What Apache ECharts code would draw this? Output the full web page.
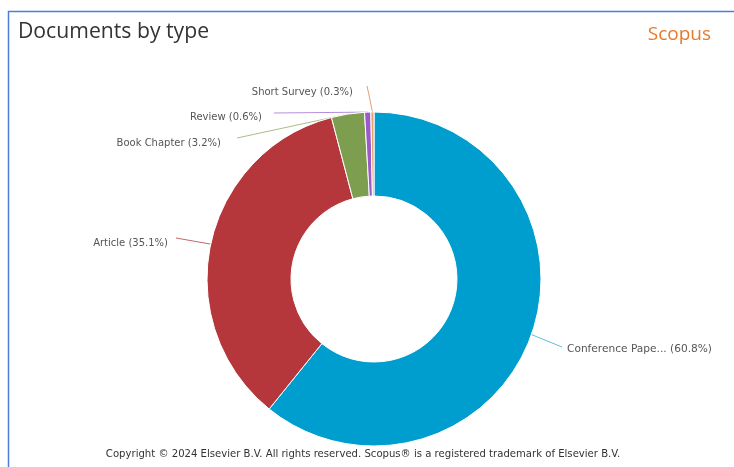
<!DOCTYPE html>
<html>
<head>
<meta charset="utf-8">
<script src="https://cdn.jsdelivr.net/npm/echarts@6/dist/echarts.min.js"></script>
<style>html,body{margin:0;padding:0;background:#fff;}#c{width:734px;height:467px;}</style>
</head>
<body>
<div id="c"></div>
<script>
const categories = ['Conference Pape...', 'Article', 'Book Chapter', 'Review', 'Short Survey'];
const values = [60.8, 35.1, 3.2, 0.6, 0.3];
const colors = ['#009ECE', '#B5373B', '#7E9E4F', '#9A5BC9', '#E8A06E'];
const lineColors = ['#5BBFDD', '#C9646A', '#A8BE86', '#B48EDB', '#E0A070'];

// label anchor positions (text placement only)
const labelPos = [
  {x: 567, y: 349, align: 'left', bend: [562, 347]},
  {x: 168, y: 243, align: 'right', bend: [176, 238]},
  {x: 221, y: 143, align: 'right', bend: [237, 138]},
  {x: 262, y: 117, align: 'right', bend: [274, 113]},
  {x: 353, y: 92, align: 'right', bend: [367, 86]}
];

const chart = echarts.init(document.getElementById('c'));
chart.setOption({
  animation: false,
  title: [
    {text: 'Documents by type', left: 13, top: 16,
     textStyle: {fontFamily: 'Open Sans', fontSize: 21.2, fontWeight: 'normal', color: '#333'}},
    {text: 'Scopus', right: 18, top: 20,
     textStyle: {fontFamily: 'Open Sans', fontSize: 19, fontWeight: 'normal', color: '#E8792A'}}
  ],
  graphic: [
    {type: 'line', shape: {x1: 8, y1: 11.5, x2: 734, y2: 11.5}, style: {stroke: '#4A7FD8', lineWidth: 1.5}},
    {type: 'line', shape: {x1: 8.5, y1: 11, x2: 8.5, y2: 467}, style: {stroke: '#4A7FD8', lineWidth: 1.5}},
    {type: 'text', x: 363, y: 454,
     style: {text: 'Copyright \u00a9 2024 Elsevier B.V. All rights reserved. Scopus\u00ae is a registered trademark of Elsevier B.V.',
       fontFamily: 'DejaVu Sans', fontSize: 10.1, fill: '#333', align: 'center', verticalAlign: 'middle'}}
  ],
  series: [{
    type: 'pie',
    center: [374, 279],
    radius: [83, 167],
    startAngle: 90,
    clockwise: true,
    itemStyle: {borderColor: '#fff', borderWidth: 1},
    label: {
      show: true,
      fontFamily: 'DejaVu Sans',
      fontSize: 10,
      color: '#555',
      formatter: p => p.name + ' (' + p.value + '%)'
    },
    labelLine: {show: true, length: 10, length2: 10, lineStyle: {width: 1}},
    labelLayout: function (params) {
      const i = params.dataIndex;
      const lp = labelPos[i];
      const start = params.labelLinePoints ? params.labelLinePoints[0] : lp.bend;
      let pts;
      if (i === 4) {
        pts = [start, [369, 95], lp.bend];
      } else {
        pts = [start, lp.bend, lp.bend];
      }
      return {x: lp.x, y: lp.y, align: lp.align, verticalAlign: 'middle', labelLinePoints: pts};
    },
    data: categories.map((c, i) => ({
      name: c, value: values[i],
      itemStyle: {color: colors[i]},
      labelLine: {lineStyle: {color: lineColors[i]}},
      label: i === 0 ? {fontSize: 10.6} : undefined
    }))
  }]
});
</script>
</body>
</html>
